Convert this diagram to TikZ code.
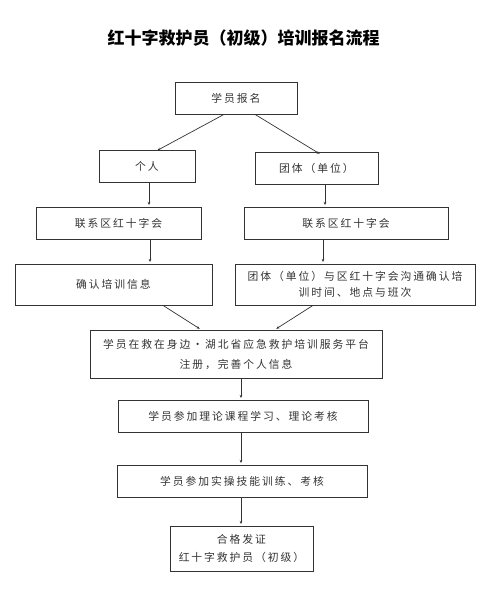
\documentclass[tikz,border=0pt]{standalone}
\usepackage{fontspec}
\usetikzlibrary{arrows.meta}
\newfontfamily\cjk[LetterSpace=18]{Noto Sans CJK SC}
\newfontfamily\cjktitle{Noto Sans CJK SC}
\definecolor{ink}{HTML}{333333}
\tikzset{
  box/.style={draw=ink, line width=0.8pt, rectangle, inner sep=0pt, align=center,
    text=ink, font=\cjk\fontsize{10.8}{16}\selectfont},
  arr/.style={draw=ink, line width=0.7pt, -{Stealth[length=3.2pt,width=2.6pt]}, shorten >=1.5pt},
}
\begin{document}
\begin{tikzpicture}[x=1pt,y=-1pt]
\useasboundingbox (0,0) rectangle (485,594);
\node[font=\cjktitle\bfseries\fontsize{17}{20}\selectfont, text=black] (title) at (243.5,38) {红十字救护员（初级）培训报名流程};
\node[box, minimum width=122pt, minimum height=32pt] (top) at (236,98) {学员报名};
\node[box, minimum width=96pt, minimum height=32pt] (ind) at (147,166) {个人};
\node[box, minimum width=123pt, minimum height=32pt] (grp) at (316.5,168) {团体（单位）};
\node[box, minimum width=165pt, minimum height=32pt] (lc1) at (118.5,223) {联系区红十字会};
\node[box, minimum width=204pt, minimum height=32pt] (lc2) at (346,223) {联系区红十字会};
\node[box, minimum width=197pt, minimum height=41pt] (conf1) at (113.5,284.5) {确认培训信息};
\node[box, minimum width=240pt, minimum height=41pt] (conf2) at (355,284.5) {团体（单位）与区红十字会沟通确认培\\训时间、地点与班次};
\node[box, minimum width=292pt, minimum height=48pt, font=\cjk\fontsize{10.8}{20}\selectfont] (plat) at (236,354) {学员在救在身边•湖北省应急救护培训服务平台\\注册，完善个人信息};
\node[box, minimum width=250pt, minimum height=32pt] (th) at (243,416) {学员参加理论课程学习、理论考核};
\node[box, minimum width=250pt, minimum height=32pt] (pr) at (242,481) {学员参加实操技能训练、考核};
\node[box, minimum width=143pt, minimum height=45pt, font=\cjk\fontsize{10.8}{18}\selectfont] (cert) at (241.5,548.5) {合格发证\\红十字救护员（初级）};
\draw[arr] ([xshift=-12pt]top.south) -- ([xshift=9pt,yshift=-1.5pt]ind.north);
\draw[arr] ([xshift=19pt]top.south) -- ([xshift=4.5pt,yshift=-3pt]grp.north);
\draw[arr] ([xshift=2pt]ind.south) -- ([xshift=2pt]ind.south |- lc1.north);
\draw[arr] ([xshift=8.5pt]grp.south) -- ([xshift=8.5pt]grp.south |- lc2.north);
\draw[arr] ([xshift=31.5pt]lc1.south) -- ([xshift=31.5pt]lc1.south |- conf1.north);
\draw[arr] ([xshift=-23pt]lc2.south) -- ([xshift=-23pt]lc2.south |- conf2.north);
\draw[arr] ([xshift=49.5pt]conf1.south) -- ([xshift=-35pt]plat.north);
\draw[arr] ([xshift=-42pt]conf2.south) -- ([xshift=39pt]plat.north);
\draw[arr] ([xshift=5pt]plat.south) -- ([xshift=5pt]plat.south |- th.north);
\draw[arr] ([xshift=-2pt]th.south) -- ([xshift=-2pt]th.south |- pr.north);
\draw[arr] ([xshift=-1pt]pr.south) -- ([xshift=-1pt]pr.south |- cert.north);
\end{tikzpicture}
\end{document}
